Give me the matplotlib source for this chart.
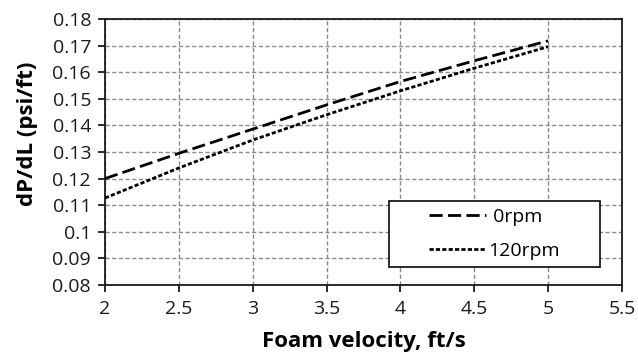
import matplotlib
matplotlib.use("Agg")
import matplotlib.pyplot as plt
from matplotlib.patches import Rectangle

# foam velocity (ft/s) and pressure gradient (psi/ft) for each rotation speed
velocity = [2.0, 2.5, 3.0, 3.5, 4.0, 4.5, 5.0]
dpdl_0rpm = [0.1200, 0.1295, 0.1386, 0.1477, 0.1565, 0.1643, 0.1718]
dpdl_120rpm = [0.1127, 0.1240, 0.1345, 0.1440, 0.1530, 0.1615, 0.1696]
labels = [" 0rpm", "120rpm"]

x_ticks = [2, 2.5, 3, 3.5, 4, 4.5, 5, 5.5]
y_ticks = [0.08, 0.09, 0.10, 0.11, 0.12, 0.13, 0.14, 0.15, 0.16, 0.17, 0.18]

plt.rcParams["font.family"] = ["Open Sans", "DejaVu Sans"]
plt.rcParams["lines.scale_dashes"] = False

fig = plt.figure(figsize=(6.38, 3.53), dpi=100)
ax = fig.add_axes([105 / 638, 1 - 285 / 353, 517 / 638, 266 / 353])

# the two measured curves
ax.plot(velocity, dpdl_0rpm, color="black", lw=2.0, dashes=(9.5, 3.8),
        label=labels[0], zorder=3)
ax.plot(velocity, dpdl_120rpm, color="black", lw=2.0, dashes=(3.0, 1.6),
        label=labels[1], zorder=3)

ax.set_xlim(2, 5.5)
ax.set_ylim(0.08, 0.18)
ax.set_xticks(x_ticks)
ax.set_xticklabels(["%g" % v for v in x_ticks])
ax.set_yticks(y_ticks)
ax.set_yticklabels(["%g" % v for v in y_ticks])

ax.grid(True, color="#8a8a8a", lw=1.0, dashes=(3.0, 1.8))
ax.set_axisbelow(True)

for side in ax.spines:
    ax.spines[side].set_color("#1a1a1a")
    ax.spines[side].set_linewidth(1.3)

ax.tick_params(direction="out", length=5, width=1.3, labelsize=14,
               colors="#1a1a1a")
ax.tick_params(axis="x", pad=6)
ax.tick_params(axis="y", pad=5)

ax.set_xlabel("Foam velocity, ft/s", fontsize=16, fontweight="bold")
ax.set_ylabel("dP/dL (psi/ft)", fontsize=16, fontweight="bold")
ax.xaxis.set_label_coords((364 - 105) / 517, (285 - 341) / 266)
ax.yaxis.set_label_coords((27 - 105) / 517, (285 - 134) / 266)
ax.xaxis.label.set_va("center")
ax.yaxis.label.set_va("center")

# legend box with the entries set inside it
ax.add_patch(Rectangle((0.549, 0.0677), 0.408, 0.249, transform=ax.transAxes,
                       facecolor="white", edgecolor="#1a1a1a", lw=1.3, zorder=4))
ax.legend(loc="center left", bbox_to_anchor=(0.6267, 0.192), frameon=False,
          borderpad=0, borderaxespad=0, handlelength=2.95, handletextpad=0.1,
          labelspacing=0.8, fontsize=14)

fig.savefig("out.png", dpi=100)
